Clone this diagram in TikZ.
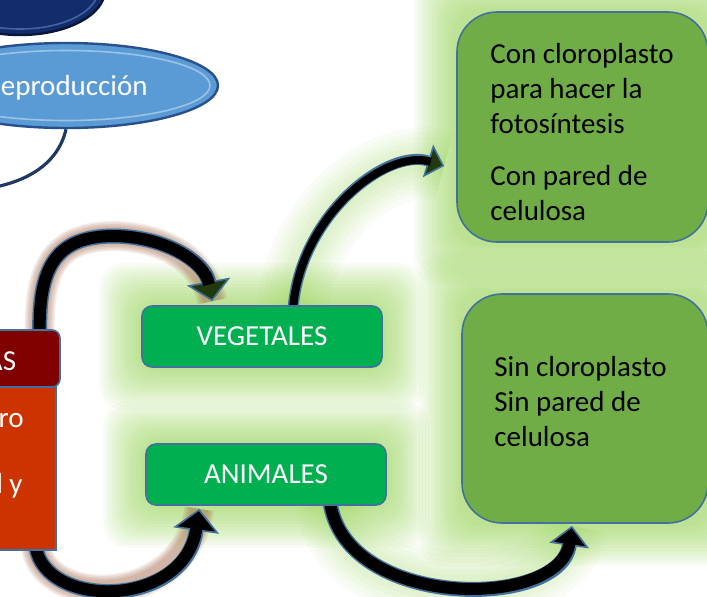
\documentclass[tikz,border=0pt]{standalone}
\usepackage{fontspec}
\setmainfont{Carlito}
\usepackage{tikz}
\usetikzlibrary{shapes.geometric, arrows.meta, positioning, calc}

\definecolor{navyfill}{RGB}{18, 44, 108}
\definecolor{navyedge}{RGB}{8, 22, 58}
\definecolor{navylight}{RGB}{70, 100, 160}
\definecolor{navyline}{RGB}{31, 56, 100}
\definecolor{reprofill}{RGB}{91, 155, 213}
\definecolor{reproedge}{RGB}{40, 80, 140}
\definecolor{hdrred}{RGB}{128, 0, 0}
\definecolor{bodyred}{RGB}{204, 51, 0}
\definecolor{edgeblue}{RGB}{65, 113, 156}
\definecolor{vegfill}{RGB}{0, 176, 80}
\definecolor{leafgreen}{RGB}{112, 173, 71}
\definecolor{glowgreen}{RGB}{140, 205, 70}
\definecolor{glowbrown}{RGB}{160, 100, 70}
\definecolor{headgreen}{RGB}{32, 58, 14}

\tikzset{
    txt/.style={font=\fontsize{14.5}{17.5}\selectfont},
    kingdom/.style={
        rectangle,
        rounded corners=5pt,
        minimum width=120pt,
        minimum height=30.5pt,
        fill=vegfill,
        draw=edgeblue,
        line width=0.8pt,
        text=white,
        txt
    },
    traits/.style={
        rectangle,
        rounded corners=20pt,
        fill=leafgreen,
        draw=edgeblue,
        line width=0.8pt
    },
    traittext/.style={align=left, inner sep=0pt, txt},
    redblock/.style={rectangle, draw=edgeblue, line width=0.8pt},
    cuttext/.style={inner sep=0pt, text=white, txt},
    arrowedge/.style={draw=edgeblue, line width=#1},
    arrowcore/.style={draw=black, line width=#1},
    greenglow/.style={draw=glowgreen, opacity=0.05, line width=#1},
    brownglow/.style={draw=glowbrown, opacity=0.12, line width=#1}
}

% curved connectors (used for glow and arrow)
\newcommand{\arrowveg}{(a1s) .. controls (38,262) and (60,237) .. (112,236) .. controls (165,236) and (205,262) .. (a1e)}
\newcommand{\arrowani}{(a2s) .. controls (45,609) and (185,609) .. (a2e)}
\newcommand{\arrowcon}{(a3s) .. controls (300,215) and (387,148) .. (a3e)}
\newcommand{\arrowsin}{(a4s) .. controls (345,610) and (560,610) .. (a4e)}

\pgfdeclarelayer{glowlayer}
\pgfdeclarelayer{arrowlayer}
\pgfsetlayers{glowlayer,arrowlayer,main}

\begin{document}
\begin{tikzpicture}[x=0.5pt, y=-0.5pt]
    \useasboundingbox (0,0) rectangle (707,596);

    % --- top left (cut off) ---
    \node (cell) [ellipse, fill=navyfill, draw=navyedge, line width=1.2pt, minimum width=85pt, minimum height=45pt] at (20,-10) {};
    \draw[navylight, line width=0.8pt] (cell.center) ellipse [x radius=39pt, y radius=19.5pt];
    \node (repro) [ellipse, fill=reprofill, draw=reproedge, line width=1.2pt, minimum width=152pt, minimum height=42.5pt] at (66,85.5) {};
    \draw[white, opacity=0.4, line width=0.8pt] (repro.center) ellipse [x radius=72pt, y radius=17.5pt];
    \node (reprolbl) [cuttext, anchor=base west] at (0.5,95) {eproducción};
    \coordinate (offleft) at (-10,188);

    % --- red block (cut off) ---
    \node (body) [redblock, fill=bodyred, minimum width=58pt, minimum height=81.5pt] at (-2,468.5) {};
    \node (hdr) [redblock, fill=hdrred, rounded corners=4pt, minimum width=60pt, minimum height=28.5pt] at (0,358.5) {};
    \node (hdrlbl) [cuttext, anchor=base east] at (16.5,370) {AS};
    \node (bodylbl1) [cuttext, anchor=base east] at (24,427) {ro};
    \node (bodylbl2) [cuttext, anchor=base east] at (23,493) {l y};

    % --- kingdoms ---
    \node (veg) [kingdom] at (262,336.5) {VEGETALES};
    \node (ani) [kingdom] at (266,474.5) {ANIMALES};

    % --- traits ---
    \node (conbox) [traits, minimum width=125.5pt, minimum height=115pt] at (582.5,127) {};
    \node (sinbox) [traits, minimum width=123pt, minimum height=114.5pt] at (585,408.5) {};
    \node (contxt) [traittext, anchor=north west] at (490,43) {Con cloroplasto\\para hacer la\\fotosíntesis\\[8.5pt]Con pared de\\celulosa};
    \node (sintxt) [traittext, anchor=north west] at (494,356) {Sin cloroplasto\\Sin pared de\\celulosa};

    % --- arrow ends ---
    \coordinate (a1s) at ($(hdr.north east)+(-21,4)$);
    \coordinate (a1e) at ($(veg.north west)+(71,-4)$);
    \coordinate (a2s) at ($(body.south east)+(-21,-4)$);
    \coordinate (a2e) at ($(ani.south west)+(54,3)$);
    \coordinate (a3s) at ($(veg.north)+(31,4)$);
    \coordinate (a3e) at ($(conbox.west)+(-12,39)$);
    \coordinate (a4s) at ($(ani.south)+(64,-4)$);
    \coordinate (a4e) at ($(sinbox.south)+(-13,2)$);

    % --- glows ---
    \begin{pgfonlayer}{glowlayer}
        \foreach \n in {veg, ani, conbox, sinbox}
            \foreach \g in {1.5,3,...,21}
                \fill[glowgreen, opacity=0.06, rounded corners=12pt] ($(\n.south west)+(-\g pt,-\g pt)$) rectangle ($(\n.north east)+(\g pt,\g pt)$);
        \foreach \w in {6,11,...,36} {
            \draw[greenglow=\w pt] \arrowcon;
            \draw[greenglow=\w pt] \arrowsin;
        }
        \foreach \w in {9,10.5,...,16} {
            \draw[brownglow=\w pt] \arrowveg;
            \draw[brownglow=\w pt] \arrowani;
        }
    \end{pgfonlayer}

    % --- connectors ---
    \begin{pgfonlayer}{arrowlayer}
        \draw[navyline, line width=1.6pt] (repro.south) .. controls (58,165) and (25,182) .. (offleft);

        \draw[arrowedge=7.5pt, -{Triangle[length=10pt, width=22pt, fill=headgreen, line width=0.8pt]}] \arrowveg;
        \draw[arrowcore=6pt, shorten >=8.5pt] \arrowveg;

        \draw[arrowedge=7.5pt, -{Triangle[length=11pt, width=23pt, fill=black, line width=0.8pt]}] \arrowani;
        \draw[arrowcore=6pt, shorten >=9.5pt] \arrowani;

        \draw[arrowedge=5.5pt, -{Triangle[length=8.5pt, width=17pt, fill=headgreen, line width=0.8pt]}] \arrowcon;
        \draw[arrowcore=4pt, shorten >=7pt] \arrowcon;

        \draw[arrowedge=7.5pt, -{Triangle[length=10pt, width=20pt, fill=black, line width=0.8pt]}] \arrowsin;
        \draw[arrowcore=6pt, shorten >=8.5pt] \arrowsin;
    \end{pgfonlayer}
\end{tikzpicture}
\end{document}
